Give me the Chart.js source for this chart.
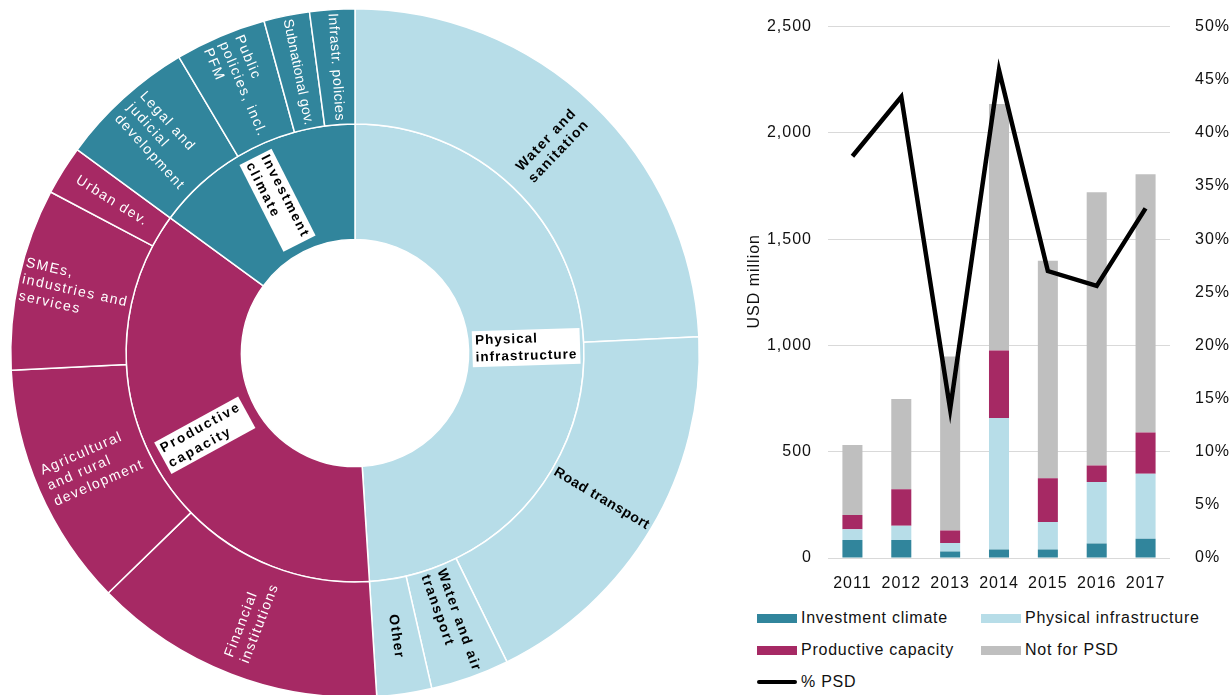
<!DOCTYPE html>
<html>
<head>
<meta charset="utf-8">
<script src="https://cdn.jsdelivr.net/npm/chart.js@4.4.0/dist/chart.umd.min.js"></script>
<style>
  body { margin: 0; width: 1231px; height: 695px; overflow: hidden; background: #fff; font-family: "Liberation Sans", Arial, sans-serif; }
  #sun { position: absolute; left: 0; top: 0; }
  #bars { position: absolute; left: 740px; top: 0; }
  #legend { position: absolute; left: 757px; top: 602px; display: grid; grid-template-columns: 224px auto; font-size: 16px; letter-spacing: 0.75px; color: #111; }
  #legend .item { display: flex; align-items: center; height: 32px; white-space: nowrap; }
  #legend .sw { width: 40px; height: 9px; margin-right: 4px; }
  #legend .sw.line { height: 4px; border-radius: 2px; }
</style>
</head>
<body>
<canvas id="sun" width="710" height="706"></canvas>
<canvas id="bars" width="491" height="598"></canvas>
<div id="legend"></div>

<script>
// sector breakdown, USD million, clockwise from the top
const physicalNames = ['Water and\nsanitation', 'Road transport', 'Water and air\ntransport', 'Other'];
const physicalValues = [735, 560, 112, 78];
const productiveNames = ['Financial\ninstitutions', 'Agricultural\nand rural\ndevelopment', 'SMEs,\nindustries and\nservices', 'Urban dev.'];
const productiveValues = [416, 348, 259, 70];
const climateNames = ['Legal and\njudicial\ndevelopment', 'Public\npolicies, incl.\nPFM', 'Subnational gov.', 'Infrastr. policies'];
const climateValues = [194, 130, 65, 64];
const groupNames = ['Physical\ninfrastructure', 'Productive\ncapacity', 'Investment\nclimate'];

// yearly commitments, USD million
const years = ['2011', '2012', '2013', '2014', '2015', '2016', '2017'];
const investmentClimate = [85, 85, 31, 40, 40, 68, 90];
const physicalInfra = [50, 67, 39, 619, 129, 290, 306];
const productiveCapacity = [67, 171, 59, 317, 206, 77, 195];
const notForPsd = [330, 425, 819, 1160, 1024, 1286, 1214];
const psdShare = [37.8, 43.4, 14.0, 45.9, 27.0, 25.6, 32.9];
const yTitle = 'USD million';

const TEAL = '#31859c';
const LIGHT = '#b7dde8';
const MAGENTA = '#a62964';
const GREY = '#bfbfbf';
const FONT = '"Liberation Sans", Arial, sans-serif';

const sum = a => a.reduce((s, v) => s + v, 0);

const sectorNames = physicalNames.concat(productiveNames, climateNames);
const sectorValues = physicalValues.concat(productiveValues, climateValues);
const sectorColors = physicalNames.map(() => LIGHT)
  .concat(productiveNames.map(() => MAGENTA), climateNames.map(() => TEAL));

// writes each segment name along the radius, block of left aligned lines
const ringLabels = {
  id: 'ringLabels',
  afterDatasetsDraw(chart) {
    const ctx = chart.ctx;
    chart.data.datasets.forEach((ds, di) => {
      const meta = chart.getDatasetMeta(di);
      meta.data.forEach((arc, i) => {
        const p = arc.getProps(['x', 'y', 'startAngle', 'endAngle', 'innerRadius', 'outerRadius'], true);
        const mid = (p.startAngle + p.endAngle) / 2;
        const r = (p.innerRadius + p.outerRadius) / 2;
        const rot = mid > Math.PI / 2 ? mid - Math.PI : mid;
        const lines = ds.names[i].split('\n');
        const lh = 17;
        const onDark = !ds.boxed && ds.backgroundColor[i] !== LIGHT;

        ctx.save();
        ctx.translate(p.x + r * Math.cos(mid), p.y + r * Math.sin(mid));
        ctx.rotate(rot);
        ctx.font = ds.boxed ? 'bold 13.5px ' + FONT : (onDark ? '14px ' : 'bold 14px ') + FONT;
        let spacing = ds.boxed ? (Math.abs(rot) < 0.1 ? 1 : 2) : 1.5;
        const widest = () => {
          ctx.letterSpacing = spacing.toFixed(2) + 'px';
          return Math.max(...lines.map(l => ctx.measureText(l).width));
        };
        let w = widest();
        // keep long names inside the ring
        while (w > p.outerRadius - p.innerRadius - 6 && spacing > 0) {
          spacing -= 0.1;
          w = widest();
        }
        const h = lines.length * lh;
        if (ds.boxed) {
          ctx.fillStyle = '#fff';
          ctx.fillRect(-w / 2 - 3, -h / 2 - 1, w + 6, h + 2);
        }
        ctx.fillStyle = onDark ? '#fff' : '#000';
        ctx.textAlign = 'left';
        ctx.textBaseline = 'middle';
        lines.forEach((l, k) => ctx.fillText(l, -w / 2, -h / 2 + lh * (k + 0.5)));
        ctx.restore();
      });
    });
  }
};

new Chart(document.getElementById('sun'), {
  type: 'doughnut',
  data: {
    labels: sectorNames,
    datasets: [
      {
        data: sectorValues,
        names: sectorNames,
        backgroundColor: sectorColors,
        borderColor: '#fff',
        borderWidth: 1.5
      },
      {
        data: [sum(physicalValues), sum(productiveValues), sum(climateValues)],
        names: groupNames,
        boxed: true,
        backgroundColor: [LIGHT, MAGENTA, TEAL],
        borderColor: '#fff',
        borderWidth: 1.5
      }
    ]
  },
  options: {
    responsive: false,
    animation: false,
    cutout: '33%',
    layout: { padding: { left: 10, right: 10, top: 8, bottom: 8 } },
    plugins: { legend: { display: false }, tooltip: { enabled: false } }
  },
  plugins: [ringLabels]
});

const tickFont = { family: FONT, size: 16 };

// slightly wider text for ticks, plus the left axis title sitting a bit above centre
const spacedText = {
  id: 'spacedText',
  beforeDraw(chart) { chart.ctx.letterSpacing = '1px'; },
  afterDraw(chart) {
    const { ctx, chartArea } = chart;
    ctx.save();
    ctx.translate(15, (chartArea.top + chartArea.bottom) / 2 - 11);
    ctx.rotate(-Math.PI / 2);
    ctx.font = '16px ' + FONT;
    ctx.fillStyle = '#111';
    ctx.textAlign = 'center';
    ctx.textBaseline = 'middle';
    ctx.fillText(yTitle, 0, 0);
    ctx.restore();
  }
};

const barChart = new Chart(document.getElementById('bars'), {
  type: 'bar',
  data: {
    labels: years,
    datasets: [
      {
        type: 'line',
        label: '% PSD',
        data: psdShare,
        yAxisID: 'y1',
        borderColor: '#000',
        backgroundColor: '#000',
        borderWidth: 4.5,
        borderJoinStyle: 'miter',
        pointRadius: 0,
        tension: 0,
        order: 0
      },
      { label: 'Investment climate', data: investmentClimate, backgroundColor: TEAL, order: 1 },
      { label: 'Physical infrastructure', data: physicalInfra, backgroundColor: LIGHT, order: 1 },
      { label: 'Productive capacity', data: productiveCapacity, backgroundColor: MAGENTA, order: 1 },
      { label: 'Not for PSD', data: notForPsd, backgroundColor: GREY, order: 1 }
    ]
  },
  options: {
    responsive: false,
    animation: false,
    layout: { padding: { top: 22, right: 0, bottom: 0, left: 0 } },
    datasets: { bar: { barPercentage: 1, categoryPercentage: 0.41 } },
    scales: {
      x: {
        stacked: true,
        grid: { display: false },
        border: { display: false },
        ticks: { font: tickFont, color: '#111', padding: 8 },
        afterFit(s) { s.height = 40; }
      },
      y: {
        stacked: true,
        min: 0,
        max: 2500,
        grid: { color: '#d9d9d9', drawTicks: false },
        border: { display: false },
        ticks: {
          stepSize: 500,
          padding: 16,
          font: tickFont,
          color: '#111',
          callback: v => v.toLocaleString('en-US')
        },
        afterFit(s) { s.width = 88; }
      },
      y1: {
        position: 'right',
        min: 0,
        max: 50,
        grid: { display: false },
        border: { display: false },
        ticks: { stepSize: 5, padding: 17, font: tickFont, color: '#111', callback: v => v + '%' },
        afterFit(s) { s.width = 61; }
      }
    },
    plugins: { legend: { display: false }, tooltip: { enabled: false } }
  },
  plugins: [spacedText]
});

// legend in two columns, bars first then the line
const legend = document.getElementById('legend');
const ordered = barChart.data.datasets.slice(1).concat(barChart.data.datasets[0]);
ordered.forEach(ds => {
  const item = document.createElement('div');
  item.className = 'item';
  const sw = document.createElement('span');
  sw.className = 'sw' + (ds.type === 'line' ? ' line' : '');
  sw.style.background = ds.type === 'line' ? ds.borderColor : ds.backgroundColor;
  const txt = document.createElement('span');
  txt.textContent = ds.label;
  item.appendChild(sw);
  item.appendChild(txt);
  legend.appendChild(item);
});
</script>
</body>
</html>
